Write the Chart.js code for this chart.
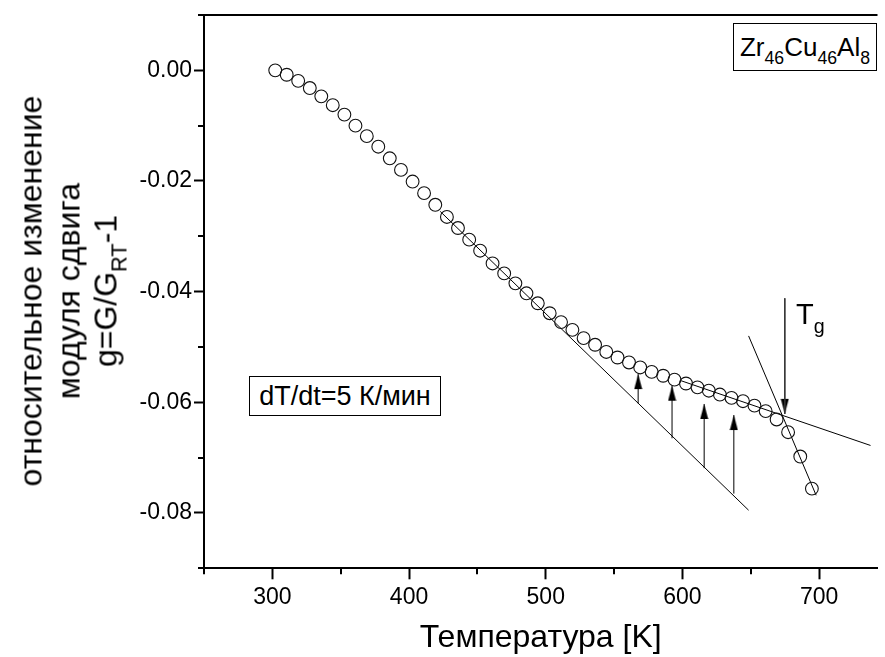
<!DOCTYPE html>
<html>
<head>
<meta charset="utf-8">
<script src="https://cdn.jsdelivr.net/npm/chart.js@4.4.1/dist/chart.umd.min.js"></script>
<style>
html,body{margin:0;padding:0;background:#fff;}
#wrap{position:relative;width:885px;height:657px;overflow:hidden;font-family:"Liberation Sans",Arial,sans-serif;color:#000;}
#chart{position:absolute;left:0;top:0;}
.box{position:absolute;border:1px solid #000;background:#fff;box-sizing:border-box;display:flex;align-items:center;justify-content:center;white-space:nowrap;}
.box span{display:inline-block;line-height:1;}
.lbl{position:absolute;white-space:nowrap;line-height:1;}
sub{font-size:0.68em;vertical-align:-0.45em;line-height:0;}
#ytitle{position:absolute;left:-208px;top:235px;width:553px;height:112px;transform:rotate(-90deg);transform-origin:50% 50%;text-align:center;font-size:32px;line-height:37.5px;}
</style>
</head>
<body>
<div id="wrap">
<canvas id="chart" width="885" height="657"></canvas>
<div id="ytitle">относительное изменение<br>модуля сдвига<br>g=G/G<sub>RT</sub>-1</div>
<div class="box" style="left:733px;top:23px;width:144px;height:48px;font-size:26px;"><span>Zr<sub>46</sub>Cu<sub>46</sub>Al<sub>8</sub></span></div>
<div class="box" style="left:249px;top:376px;width:192px;height:40px;font-size:27px;"><span>dT/dt=5 К/мин</span></div>
<div class="lbl" style="left:796px;top:300px;font-size:29px;">T<sub>g</sub></div>
</div>
<script>
// measured data: temperature (K) and relative shear modulus change g = G/G_RT - 1
const temperatureK = [302.1, 310.5, 318.9, 327.4, 335.8, 344.2, 352.7, 360.8, 369.1, 377.5,
  385.9, 394.1, 402.6, 411.0, 419.2, 427.7, 435.8, 444.0, 452.0, 461.1,
  469.6, 477.8, 485.9, 494.2, 502.9, 511.2, 519.5, 527.7, 536.1, 544.3,
  552.5, 560.9, 569.1, 577.5, 585.9, 594.2, 602.6, 611.0, 619.3, 627.4,
  635.9, 644.3, 652.7, 660.9, 668.9, 677.3, 686.2, 694.7];
const modulusChange = [0.0000, -0.0008, -0.0019, -0.0032, -0.0047, -0.0063, -0.0080, -0.0100, -0.0119, -0.0138,
  -0.0159, -0.0180, -0.0201, -0.0222, -0.0243, -0.0265, -0.0285, -0.0306, -0.0326, -0.0349,
  -0.0367, -0.0385, -0.0403, -0.0421, -0.0439, -0.0455, -0.0469, -0.0484, -0.0496, -0.0509,
  -0.0519, -0.0528, -0.0537, -0.0545, -0.0552, -0.0559, -0.0566, -0.0573, -0.0579, -0.0586,
  -0.0592, -0.0598, -0.0606, -0.0616, -0.0631, -0.0654, -0.0698, -0.0756];

// construction lines
const lowTangentT = [422.8, 648.4];
const lowTangentG = [-0.0255, -0.0795];
const steepTangentT = [648.4, 697.8];
const steepTangentG = [-0.0480, -0.0768];
const highTangentT = [599.0, 737.6];
const highTangentG = [-0.0561, -0.0678];

// upward arrows (from tangent to curve)
const arrowT = [567.6, 592.4, 615.9, 637.6];
const arrowFromG = [-0.0602, -0.0665, -0.0719, -0.0765];
const arrowToG = [-0.0549, -0.0570, -0.0603, -0.0623];

// Tg arrow
const tgArrowT = [674.9];
const tgArrowFromG = [-0.0412];
const tgArrowToG = [-0.0621];

// ticks
const xTickValues = [250, 300, 350, 400, 450, 500, 550, 600, 650, 700];
const xTickLabels = ['', '300', '', '400', '', '500', '', '600', '', '700'];
const yTickValues = [-0.09, -0.08, -0.07, -0.06, -0.05, -0.04, -0.03, -0.02, -0.01, 0.00, 0.01];
const yTickLabels = ['', '-0.08', '', '-0.06', '', '-0.04', '', '-0.02', '', '0.00', ''];

const FONT = "'Liberation Sans', Arial, sans-serif";
Chart.defaults.font.family = FONT;
Chart.defaults.color = '#000';

function makeArrowHead() {
  const c = document.createElement('canvas');
  c.width = 9; c.height = 32;
  const g = c.getContext('2d');
  g.fillStyle = '#000';
  g.beginPath();
  g.moveTo(4.5, 16);
  g.lineTo(0.5, 31);
  g.lineTo(8.5, 31);
  g.closePath();
  g.fill();
  return c;
}
const arrowHead = makeArrowHead();

const pts = (xs, ys) => xs.map((x, i) => ({x: x, y: ys[i]}));
const lineDs = (xs, ys, color, width) => ({
  type: 'line', data: pts(xs, ys), borderColor: color, borderWidth: width,
  pointRadius: 0, fill: false, tension: 0
});

const datasets = [];
datasets.push({
  type: 'scatter', data: pts(temperatureK, modulusChange),
  pointRadius: 6.4, pointBorderWidth: 1.1, pointBorderColor: '#111',
  pointBackgroundColor: 'rgba(0,0,0,0)', showLine: false
});
datasets.push(lineDs(lowTangentT, lowTangentG, '#000', 1));
datasets.push(lineDs(steepTangentT, steepTangentG, '#000', 1));
datasets.push(lineDs(highTangentT, highTangentG, '#000', 1));
arrowT.forEach((t, i) => {
  datasets.push(lineDs([t, t], [arrowFromG[i], arrowToG[i]], '#000', 1));
});
datasets.push({
  type: 'scatter', data: pts(arrowT, arrowToG), pointStyle: arrowHead,
  pointRadius: 5, pointRotation: 0, showLine: false
});
datasets.push(lineDs([tgArrowT[0], tgArrowT[0]], [tgArrowFromG[0], tgArrowToG[0]], '#333', 1));
datasets.push({
  type: 'scatter', data: pts(tgArrowT, tgArrowToG), pointStyle: arrowHead,
  pointRadius: 5, pointRotation: 180, showLine: false
});

const frame = {
  id: 'frame',
  afterDraw(chart) {
    const ctx = chart.ctx, a = chart.chartArea;
    const xs = chart.scales.x, ys = chart.scales.y;
    ctx.save();
    ctx.strokeStyle = '#000';
    ctx.lineWidth = 2;
    ctx.beginPath();
    ctx.moveTo(a.left - 1, a.top);
    ctx.lineTo(a.right, a.top);
    ctx.stroke();
    // minor ticks
    ctx.beginPath();
    xTickValues.forEach((v, i) => {
      if (xTickLabels[i] === '') {
        const px = Math.round(xs.getPixelForValue(v));
        ctx.moveTo(px, a.bottom);
        ctx.lineTo(px, a.bottom + 6);
      }
    });
    yTickValues.forEach((v, i) => {
      if (yTickLabels[i] === '') {
        const py = Math.round(ys.getPixelForValue(v));
        ctx.moveTo(a.left, py);
        ctx.lineTo(a.left - 6, py);
      }
    });
    ctx.stroke();
    ctx.restore();
  }
};

new Chart(document.getElementById('chart'), {
  data: {datasets: datasets},
  options: {
    responsive: false,
    animation: false,
    layout: {padding: {top: 15, left: 0, right: 0, bottom: 0}},
    plugins: {legend: {display: false}, tooltip: {enabled: false}},
    scales: {
      x: {
        type: 'linear', position: 'bottom', min: 250, max: 742.7,
        afterBuildTicks: s => { s.ticks = xTickValues.map(v => ({value: v})); },
        afterFit: s => { s.height = 88.7; s.paddingLeft = 0; s.paddingRight = 0; },
        ticks: {
          callback: (v, i) => xTickLabels[i],
          font: {size: 23}, color: '#000', padding: 5, maxRotation: 0, autoSkip: false
        },
        grid: {
          display: true, drawOnChartArea: false, drawTicks: true, tickLength: 11, tickWidth: 2,
          tickColor: c => (xTickLabels[c.index] ? '#000' : 'rgba(0,0,0,0)')
        },
        border: {display: true, color: '#000', width: 2},
        title: {display: true, text: 'Температура [K]', font: {size: 32}, color: '#000', padding: {top: 0, bottom: 0}}
      },
      y: {
        type: 'linear', position: 'left', min: -0.09, max: 0.01,
        afterBuildTicks: s => { s.ticks = yTickValues.map(v => ({value: v})); },
        afterFit: s => { s.width = 204; s.paddingTop = 0; s.paddingBottom = 0; },
        ticks: {
          callback: (v, i) => yTickLabels[i],
          font: {size: 23}, color: '#000', padding: 2, autoSkip: false
        },
        grid: {
          display: true, drawOnChartArea: false, drawTicks: true, tickLength: 10, tickWidth: 2,
          tickColor: c => (yTickLabels[c.index] ? '#000' : 'rgba(0,0,0,0)')
        },
        border: {display: true, color: '#000', width: 2}
      }
    }
  },
  plugins: [frame]
});
</script>
</body>
</html>
